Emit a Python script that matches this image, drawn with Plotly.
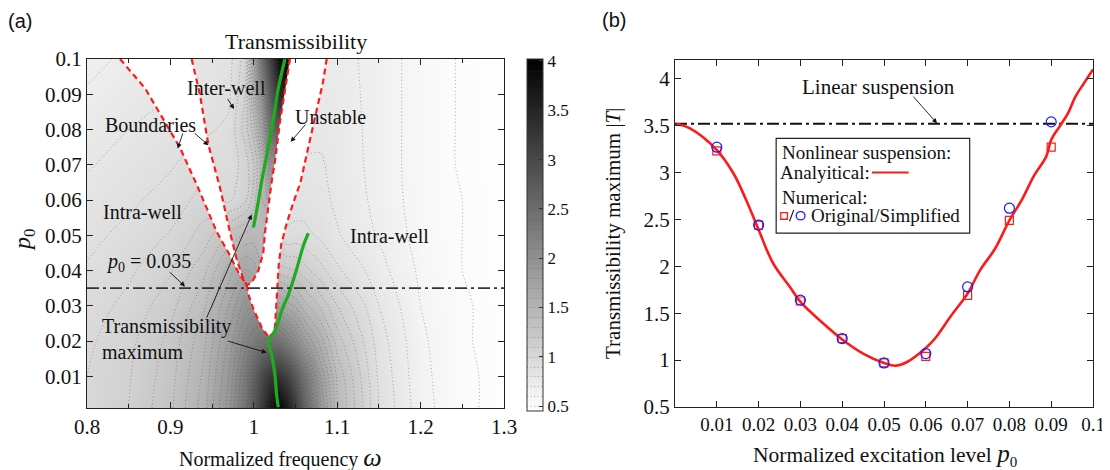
import plotly.graph_objects as go

# ---------------- data: panel (a) ----------------
omega_grid = [0.80, 0.85, 0.90, 0.94, 0.97, 0.99, 1.00, 1.01, 1.02, 1.03,
              1.04, 1.05, 1.06, 1.08, 1.10, 1.15, 1.20, 1.25, 1.30]
p_grid = [0.001, 0.01, 0.02, 0.03, 0.04, 0.05, 0.06, 0.07, 0.08, 0.09, 0.10]
T_grid = [
    [1.00, 1.10, 1.28, 1.55, 1.95, 2.40, 2.80, 3.20, 3.70, 4.00, 3.70, 3.15, 2.65, 1.90, 1.42, 0.90, 0.64, 0.52, 0.47],
    [1.00, 1.09, 1.26, 1.52, 1.90, 2.32, 2.65, 3.00, 3.25, 3.28, 3.10, 2.75, 2.40, 1.80, 1.38, 0.88, 0.63, 0.52, 0.47],
    [0.98, 1.07, 1.23, 1.47, 1.82, 2.15, 2.30, 2.40, 2.45, 2.40, 2.25, 2.05, 1.85, 1.55, 1.25, 0.85, 0.62, 0.51, 0.47],
    [0.95, 1.03, 1.16, 1.38, 1.70, 1.95, 2.00, 1.95, 1.85, 1.75, 1.65, 1.58, 1.45, 1.28, 1.10, 0.80, 0.60, 0.51, 0.47],
    [0.91, 0.98, 1.09, 1.27, 1.55, 1.72, 1.65, 1.50, 1.35, 1.25, 1.22, 1.20, 1.14, 1.03, 0.92, 0.74, 0.58, 0.50, 0.47],
    [0.87, 0.93, 1.01, 1.14, 1.32, 1.42, 1.45, 1.42, 1.20, 1.00, 0.92, 0.94, 0.93, 0.88, 0.81, 0.69, 0.56, 0.50, 0.47],
    [0.83, 0.88, 0.94, 1.04, 0.98, 1.08, 1.25, 1.50, 1.65, 1.20, 0.85, 0.84, 0.85, 0.83, 0.78, 0.67, 0.55, 0.50, 0.47],
    [0.79, 0.84, 0.89, 0.96, 0.93, 1.05, 1.20, 1.45, 1.95, 2.00, 0.85, 0.80, 0.81, 0.81, 0.77, 0.66, 0.55, 0.49, 0.47],
    [0.75, 0.80, 0.85, 0.88, 0.92, 1.15, 1.35, 1.75, 2.40, 2.80, 2.90, 0.77, 0.77, 0.78, 0.76, 0.66, 0.55, 0.49, 0.47],
    [0.71, 0.76, 0.80, 0.84, 0.88, 1.10, 1.55, 2.00, 2.70, 3.40, 3.60, 0.75, 0.75, 0.76, 0.75, 0.66, 0.55, 0.49, 0.47],
    [0.67, 0.72, 0.77, 0.82, 0.86, 1.05, 1.70, 2.45, 3.10, 3.85, 4.00, 0.75, 0.73, 0.74, 0.74, 0.66, 0.55, 0.49, 0.47],
]

# stability boundaries (omega, p0)
bA_w = [0.8396, 0.8696, 0.8900, 0.9115, 0.9315, 0.9440, 0.9555, 0.9695, 0.9814, 0.9915]
bA_p = [0.1000, 0.0917, 0.0835, 0.0748, 0.0644, 0.0575, 0.0510, 0.0451, 0.0395, 0.0358]
bE_w = [0.9915, 0.9934, 0.9995, 1.0094, 1.0150, 1.0185]
bE_p = [0.0358, 0.0333, 0.0291, 0.0239, 0.0220, 0.0212]
bB_w = [0.9255, 0.9355, 0.9455, 0.9595, 0.9715, 0.9795, 0.9874, 0.9915]
bB_p = [0.1000, 0.0898, 0.0757, 0.0635, 0.0508, 0.0432, 0.0376, 0.0358]
bC_w = [1.0434, 1.0374, 1.0314, 1.0260, 1.0215, 1.0134, 1.0114, 1.0054, 0.9975, 0.9915]
bC_p = [0.1000, 0.0910, 0.0823, 0.0720, 0.0653, 0.0508, 0.0451, 0.0399, 0.0366, 0.0358]
bD_w = [1.0185, 1.0230, 1.0254, 1.0270, 1.0285, 1.0300, 1.0330, 1.0390, 1.0470,
        1.0560, 1.0634, 1.0700, 1.0774, 1.0830, 1.0874]
bD_p = [0.0212, 0.0222, 0.0240, 0.0300, 0.0360, 0.0420, 0.0475, 0.0530, 0.0590,
        0.0650, 0.0729, 0.0800, 0.0870, 0.0935, 0.1000]

# transmissibility-maximum loci
g1_w = [0.9995, 1.0050, 1.0094, 1.0145, 1.0194, 1.0245, 1.0294, 1.0374]
g1_p = [0.0522, 0.0590, 0.0653, 0.0715, 0.0776, 0.0845, 0.0917, 0.1000]
g2_w = [1.0294, 1.0274, 1.0254, 1.0215, 1.0174, 1.0230, 1.0274, 1.0340, 1.0414,
        1.0514, 1.0594, 1.0654]
g2_p = [0.0012, 0.0046, 0.0103, 0.0160, 0.0201, 0.0220, 0.0240, 0.0290, 0.0331,
        0.0404, 0.0470, 0.0506]

p_level_w = [0.8, 1.3]
p_level = [0.035, 0.035]
cbar_ticks = [0.5, 1, 1.5, 2, 2.5, 3, 3.5, 4]

# ---------------- data: panel (b) ----------------
curve_p = [0.0003, 0.0036, 0.0100, 0.0140, 0.0170, 0.0200, 0.0235, 0.0275, 0.0300,
           0.0355, 0.0400, 0.0450, 0.0500, 0.0527, 0.0555, 0.0600, 0.0622, 0.0660,
           0.0700, 0.0730, 0.0766, 0.0800, 0.0830, 0.0858, 0.0888, 0.0900, 0.0920,
           0.0940, 0.0958, 0.0978, 0.1000]
curve_T = [3.52, 3.47, 3.24, 2.99, 2.71, 2.39, 2.03, 1.78, 1.62,
           1.39, 1.22, 1.07, 0.97, 0.94, 0.98, 1.13, 1.23, 1.47,
           1.71, 1.96, 2.19, 2.49, 2.71, 2.96, 3.17, 3.35, 3.49,
           3.63, 3.81, 3.95, 4.10]
num_p = [0.01, 0.02, 0.03, 0.04, 0.05, 0.06, 0.07, 0.08, 0.09]
orig_T = [3.23, 2.44, 1.63, 1.23, 0.97, 1.04, 1.69, 2.49, 3.27]
simp_T = [3.27, 2.44, 1.64, 1.23, 0.97, 1.07, 1.78, 2.62, 3.54]
lin_p = [0.0, 0.1]
lin_T = [3.52, 3.52]
b_xticks = [0.01, 0.02, 0.03, 0.04, 0.05, 0.06, 0.07, 0.08, 0.09, 0.1]
b_xlabels = ["0.01", "0.02", "0.03", "0.04", "0.05", "0.06", "0.07", "0.08", "0.09", "0.1"]
b_yticks = [0.5, 1, 1.5, 2, 2.5, 3, 3.5, 4]

SERIF = "Liberation Serif, Times New Roman, serif"
SANS = "Liberation Sans, Arial, sans-serif"
RED = "#ff1a1a"
GREEN = "#1faa1f"

# the page places the figure 8 px from the top-left corner of the window
W, H, OFF = 1110, 470, 8
def PX(px):
    return (px - OFF) / W
def PY(py):
    return 1 - (py - OFF) / H

fig = go.Figure()

fig.add_trace(go.Contour(
    x=omega_grid, y=p_grid, z=T_grid,
    colorscale=[[0, "#ffffff"], [1, "#000000"]], zmin=0.45, zmax=4.02,
    contours=dict(coloring="heatmap", start=0.5, end=4.0, size=0.1, showlines=True),
    line=dict(color="rgba(70,70,70,0.55)", width=0.8, dash="1px,2.5px", smoothing=0.9),
    colorbar=dict(x=PX(527), xanchor="left", y=PY(235), yanchor="middle", len=352 / H,
                  lenmode="fraction", thickness=16, outlinewidth=1, outlinecolor="#333",
                  tickvals=cbar_ticks, ticks="inside", ticklen=4, tickcolor="#333",
                  tickfont=dict(family=SERIF, size=17, color="#111"), xpad=0, ypad=0),
    hoverinfo="skip", xaxis="x", yaxis="y",
))

# unstable (white) regions
fig.add_trace(go.Scatter(x=bA_w + bB_w[::-1], y=bA_p + bB_p[::-1], fill="toself",
                         fillcolor="white", mode="none", showlegend=False, xaxis="x", yaxis="y"))
fig.add_trace(go.Scatter(x=bC_w + bE_w + bD_w, y=bC_p + bE_p + bD_p, fill="toself",
                         fillcolor="white", mode="none", showlegend=False, xaxis="x", yaxis="y"))

dash_red = dict(color=RED, width=2.2, dash="6px,4px")
for wx, py in [(bA_w + bE_w[1:], bA_p + bE_p[1:]), (bB_w, bB_p), (bC_w, bC_p), (bD_w, bD_p)]:
    fig.add_trace(go.Scatter(x=wx, y=py, mode="lines", line=dash_red, showlegend=False,
                             xaxis="x", yaxis="y"))
for wx, py in [(g1_w, g1_p), (g2_w, g2_p)]:
    fig.add_trace(go.Scatter(x=wx, y=py, mode="lines", line=dict(color=GREEN, width=3.2),
                             line_shape="spline", showlegend=False, xaxis="x", yaxis="y"))
fig.add_trace(go.Scatter(x=p_level_w, y=p_level, mode="lines",
                         line=dict(color="#333", width=1.6, dash="12px,4px,3px,4px"),
                         showlegend=False, xaxis="x", yaxis="y"))

# panel (b)
fig.add_trace(go.Scatter(x=lin_p, y=lin_T, mode="lines",
                         line=dict(color="#111", width=2.2, dash="12px,4px,3px,4px"),
                         showlegend=False, xaxis="x2", yaxis="y2"))
fig.add_trace(go.Scatter(x=curve_p, y=curve_T, mode="lines", line=dict(color=RED, width=2.6),
                         line_shape="spline", showlegend=False, xaxis="x2", yaxis="y2"))
fig.add_trace(go.Scatter(x=num_p, y=orig_T, mode="markers",
                         marker=dict(symbol="square-open", size=8, color=RED, line=dict(width=1.2)),
                         showlegend=False, xaxis="x2", yaxis="y2"))
fig.add_trace(go.Scatter(x=num_p, y=simp_T, mode="markers",
                         marker=dict(symbol="circle-open", size=10, color="#1a1aff", line=dict(width=1.2)),
                         showlegend=False, xaxis="x2", yaxis="y2"))

axis_common = dict(showline=True, linecolor="#222", linewidth=1, mirror="allticks",
                   ticks="inside", ticklen=6, tickcolor="#222", showgrid=False, zeroline=False,
                   automargin=False)
f21 = dict(family=SERIF, size=21, color="#111")
f19 = dict(family=SERIF, size=19, color="#111")

fig.update_layout(
    template="none",
    width=W, height=H, margin=dict(l=0, r=0, t=0, b=0, pad=0, autoexpand=False),
    paper_bgcolor="white", plot_bgcolor="white", showlegend=False,
    xaxis=dict(domain=[PX(87), PX(504)], range=[0.8, 1.3], tickvals=[0.8, 0.9, 1.0, 1.1, 1.2, 1.3],
               ticktext=["0.8", "0.9", "1", "1.1", "1.2", "1.3"], tickfont=f21,
               minor=dict(dtick=0.05, ticks="inside", ticklen=4, tickcolor="#222"), **axis_common),
    yaxis=dict(domain=[PY(408), PY(59)], range=[0.001, 0.1],
               tickvals=[0.01, 0.02, 0.03, 0.04, 0.05, 0.06, 0.07, 0.08, 0.09, 0.1],
               ticktext=["0.01", "0.02", "0.03", "0.04", "0.05", "0.06", "0.07", "0.08", "0.09", "0.1"],
               tickfont=f21, **axis_common),
    xaxis2=dict(domain=[PX(675), PX(1093)], range=[0, 0.1], tickvals=b_xticks, ticktext=b_xlabels,
                tickfont=f19, anchor="y2", **axis_common),
    yaxis2=dict(domain=[PY(407), PY(60)], range=[0.5, 4.2], tickvals=b_yticks,
                ticktext=["0.5", "1", "1.5", "2", "2.5", "3", "3.5", "4"], tickfont=f21,
                anchor="x2", **axis_common),
)

ann = []
def txt(x, y, text, size=20, xref="x", yref="y", xanchor="center", align="center", angle=0,
        family=SERIF, color="#111"):
    ann.append(dict(x=x, y=y, xref=xref, yref=yref, text=text, showarrow=False,
                    xanchor=xanchor, yanchor="middle", align=align, textangle=angle,
                    font=dict(family=family, size=size, color=color)))

def arrow(x, y, ax, ay, xref="x", yref="y", width=0.9):
    ann.append(dict(x=x, y=y, ax=ax, ay=ay, xref=xref, yref=yref, axref=xref, ayref=yref,
                    text="", showarrow=True, arrowhead=2, arrowsize=1.1, arrowwidth=width,
                    arrowcolor="#111", standoff=0, startstandoff=0))

# panel labels & titles
txt(PX(20), PY(21), "(a)", 20, "paper", "paper", family=SANS)
txt(PX(614), PY(20), "(b)", 20, "paper", "paper", family=SANS)
txt(PX(296), PY(41), "Transmissibility", 22, "paper", "paper")
txt(PX(280), PY(457), "Normalized frequency <span style='font-size:26px'><i>ω</i></span>", 20,
    "paper", "paper")
txt(PX(24), PY(240), "<i>p</i><sub>0</sub>", 24, "paper", "paper", angle=-90)
txt(PX(885), PY(455), "Normalized excitation level <span style='font-size:25px'><i>p</i></span><sub>0</sub>",
    21.5, "paper", "paper")
txt(PX(613), PY(233), "Transmissibility maximum |<i>T</i>|", 21, "paper", "paper", angle=-90)

# panel (a) text
txt(0.9667, 0.0918, "Inter-well")
txt(0.8767, 0.0814, "Boundaries")
txt(1.0914, 0.0836, "Unstable")
txt(0.8671, 0.0565, "Intra-well")
txt(1.1633, 0.0497, "Intra-well")
txt(0.8743, 0.0424, "<i>p</i><sub>0</sub> = 0.035")
txt(0.8156, 0.0206, "Transmissibility<br>maximum", xanchor="left", align="left")
arrow(0.9763, 0.0858, 0.9675, 0.0891)
arrow(0.9087, 0.0746, 0.9155, 0.0793)
arrow(0.9455, 0.0755, 0.9275, 0.0793)
arrow(1.0442, 0.0765, 1.0634, 0.0818)
arrow(0.9175, 0.0355, 0.8975, 0.0399)
arrow(0.9975, 0.0559, 0.9427, 0.0262)
arrow(1.0155, 0.0167, 0.9675, 0.0201)

# panel (b) text
txt(0.0486, 3.915, "Linear suspension", 21, "x2", "y2")
arrow(0.0627, 3.524, 0.0567, 3.826, "x2", "y2")
txt(0.0251, 3.215, "Nonlinear suspension:", 19, "x2", "y2", xanchor="left")
txt(0.0247, 3.0, "Analyitical:", 19, "x2", "y2", xanchor="left")
txt(0.0251, 2.730, "Numerical:", 19, "x2", "y2", xanchor="left")
txt(0.0320, 2.537, "Original/Simplified", 19, "x2", "y2", xanchor="left")

shapes = [
    dict(type="rect", xref="x2", yref="y2", x0=0.0242, x1=0.0705, y0=2.353, y1=3.365,
         line=dict(color="#222", width=1.2), fillcolor="white", layer="below"),
    dict(type="line", xref="x2", yref="y2", x0=0.0471, x1=0.0559, y0=3.0, y1=3.0,
         line=dict(color=RED, width=2)),
    dict(type="rect", xref="x2", yref="y2", x0=0.0253, x1=0.0269, y0=2.502, y1=2.573,
         line=dict(color=RED, width=1.3)),
    dict(type="line", xref="x2", yref="y2", x0=0.0274, x1=0.0284, y0=2.48, y1=2.60,
         line=dict(color="#111", width=1.1)),
    dict(type="circle", xref="x2", yref="y2", x0=0.0290, x1=0.0311, y0=2.495, y1=2.584,
         line=dict(color="#1a1aff", width=1.3)),
]
fig.update_layout(annotations=ann, shapes=shapes)
fig.write_html("out.html")
